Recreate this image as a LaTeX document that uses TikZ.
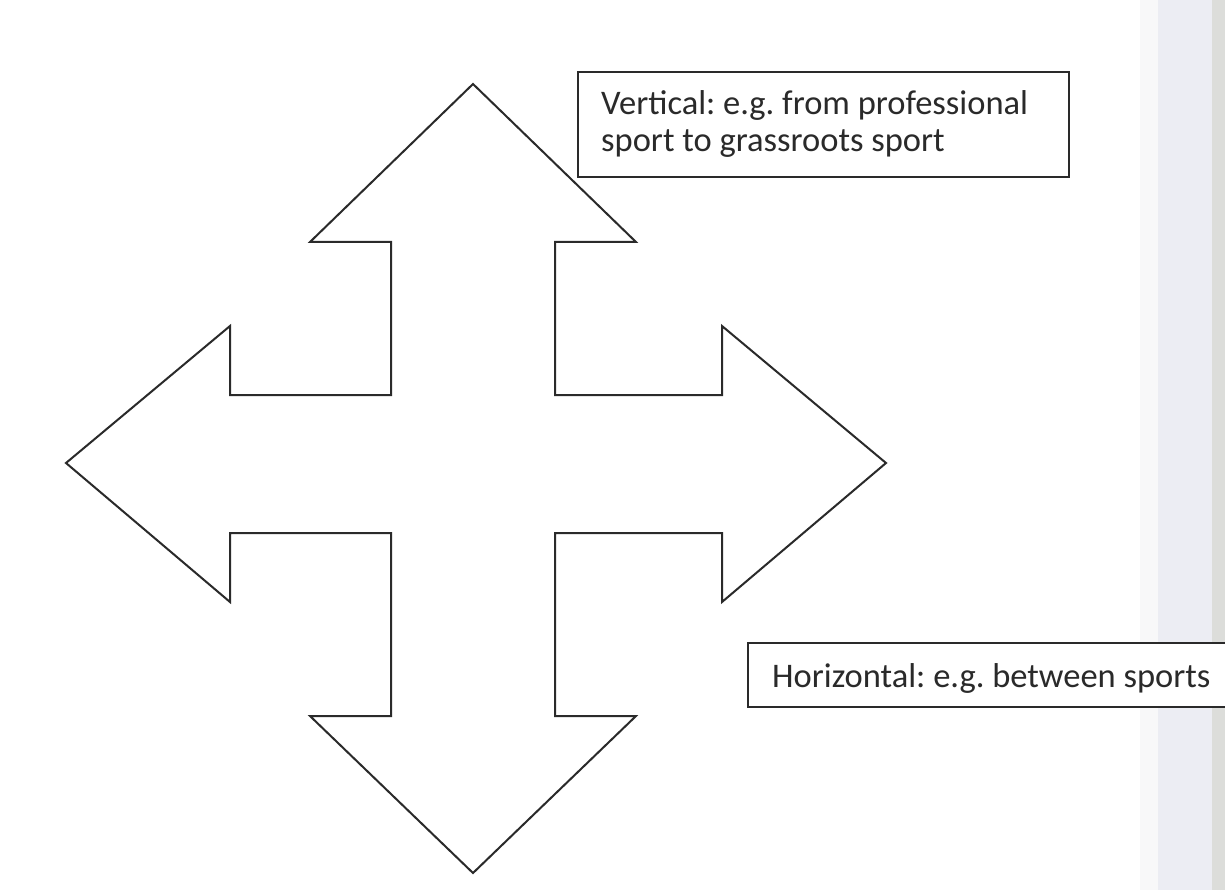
\documentclass[tikz,border=0pt]{standalone}
\usepackage{fontspec}
\setmainfont{Carlito}
\frenchspacing
\definecolor{bandgrey}{HTML}{ECEDF3}
\definecolor{edgegrey}{HTML}{DCDDDA}
\definecolor{fadegrey}{HTML}{F8F8F9}
\definecolor{ink}{HTML}{2A2A2A}
\begin{document}
\begin{tikzpicture}[x=1pt,y=-1pt,
  outline/.style={draw=ink,line width=2pt,line join=miter},
  textbox/.style={draw=ink,line width=2pt,fill=white,inner sep=0pt},
  label/.style={anchor=base west,inner sep=0pt,text=ink,font=\fontsize{34.5}{38}\selectfont}]
\useasboundingbox (0,0) rectangle (1225,890);
\fill[white] (0,0) rectangle (1225,890);
\fill[fadegrey] (1140,0) rectangle (1158,890);
\fill[bandgrey] (1158,0) rectangle (1212,890);
\fill[edgegrey] (1212,0) rectangle (1225,890);
% cross-shaped four-way arrow
\draw[outline] (473,84) -- (636,242) -- (555,242) -- (555,395) -- (722,395) -- (722,326)
  -- (886,463) -- (722,602) -- (722,533) -- (555,533) -- (555,716) -- (636,716)
  -- (473,873) -- (310,716) -- (391,716) -- (391,533) -- (230,533) -- (230,602)
  -- (66,463) -- (230,326) -- (230,395) -- (391,395) -- (391,242) -- (310,242) -- cycle;
% text boxes
\node[textbox,minimum width=491pt,minimum height=105pt] (vbox) at (823.5,124.5) {};
\node[label] (v1) at (601,115) {Vertical: e.g. from professional};
\node[label] (v2) at (601,152) {sport to grassroots sport};
\node[textbox,minimum width=490pt,minimum height=64pt] (hbox) at (993,674.5) {};
\node[label] (h1) at (772,687) {Horizontal: e.g. between sports};
\end{tikzpicture}
\end{document}
